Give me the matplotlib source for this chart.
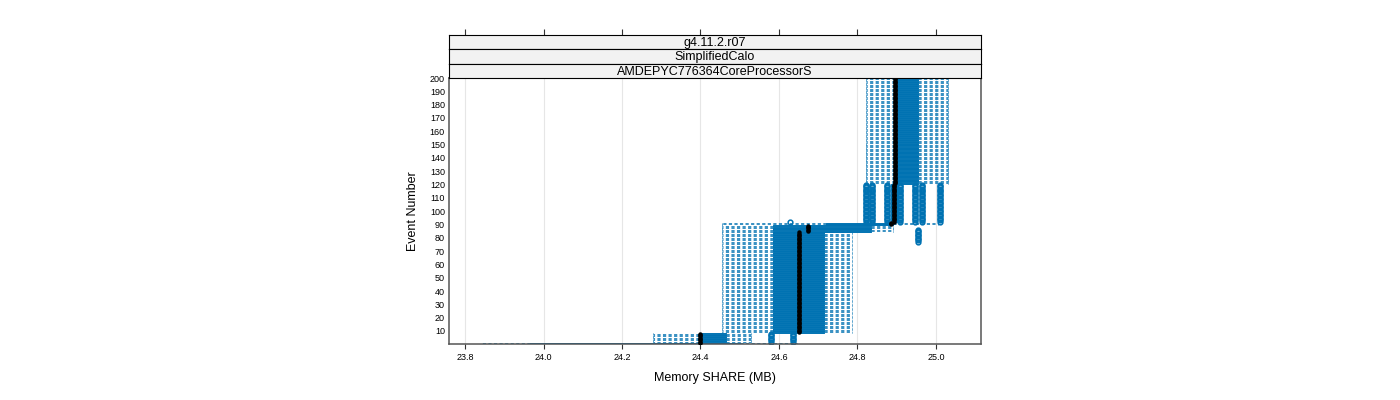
import matplotlib
matplotlib.use('Agg')
import matplotlib.pyplot as plt

plt.rcParams['font.family'] = ['Liberation Sans', 'DejaVu Sans']
plt.rcParams['lines.scale_dashes'] = False

# ---- data: runs of events that share the same box statistics (MB) ----
seg_first  = [1, 2, 9, 85, 90, 92, 121]
seg_last   = [1, 8, 84, 89, 91, 120, 200]
seg_whislo = [23.840, 24.280, 24.455, 24.455, 24.455, 24.885, 24.822]
seg_q1     = [23.965, 24.395, 24.585, 24.585, 24.720, 24.886, 24.896]
seg_med    = [24.400, 24.400, 24.650, 24.675, 24.885, 24.892, 24.895]
seg_q3     = [24.500, 24.465, 24.715, 24.835, 24.890, 24.902, 24.955]
seg_whishi = [24.645, 24.530, 24.785, 24.890, 25.005, 24.902, 25.031]

# outliers: value shown for every event from out_first to out_last
out_first = [2, 2, 77, 92, 92, 92, 92, 92, 92, 92, 92]
out_last  = [8, 8, 86, 92, 120, 120, 120, 120, 120, 120, 120]
out_value = [24.580, 24.636, 24.955, 24.628, 24.822, 24.837, 24.875,
             24.908, 24.946, 24.964, 25.010]

x_ticks = [23.8, 24.0, 24.2, 24.4, 24.6, 24.8, 25.0]
x_tick_labels = ['23.8', '24.0', '24.2', '24.4', '24.6', '24.8', '25.0']
y_ticks = list(range(10, 201, 10))
strip_labels = ['g4.11.2.r07', 'SimplifiedCalo', 'AMDEPYC776364CoreProcessorS']

# ---- build per-event stats ----
stats, events, medians = [], [], []
for f, l, wl, a, m, b, wh in zip(seg_first, seg_last, seg_whislo, seg_q1,
                                 seg_med, seg_q3, seg_whishi):
    for e in range(f, l + 1):
        fl = [v for of, ol, v in zip(out_first, out_last, out_value) if of <= e <= ol]
        stats.append(dict(whislo=wl, q1=a, med=m, q3=b, whishi=wh, fliers=fl))
        events.append(e)
        medians.append(m)

blue = '#0072B2'
W, H = 1400, 400
fig = plt.figure(figsize=(14, 4), dpi=100)
L, R, T, B = 449, 981, 78, 344
ax = fig.add_axes([L / W, 1 - B / H, (R - L) / W, (B - T) / H])
ax.set_xlim(23.759, 25.115)
ax.set_ylim(0.2, 200)

dash = (0, (2.3, 1.7))
ax.bxp(stats, positions=events, widths=0.6, capwidths=0.6,
       orientation='horizontal', manage_ticks=False,
       boxprops=dict(color=blue, lw=0.7),
       whiskerprops=dict(color=blue, lw=0.55, linestyle=dash),
       capprops=dict(color=blue, lw=0.55, linestyle=dash),
       medianprops=dict(visible=False),
       flierprops=dict(marker='o', markerfacecolor='none', markeredgecolor=blue,
                       markersize=3.4, markeredgewidth=1.1))
ax.plot(medians, events, 'o', color='black', ms=3.2, mew=0, zorder=5)

ax.set_xticks(x_ticks)
ax.set_xticklabels(x_tick_labels)
ax.set_yticks(y_ticks)
ax.set_yticklabels([str(v) for v in y_ticks])
ax.tick_params(axis='x', direction='out', length=3.6, width=0.8, colors='#333333',
               labelsize=6.5, pad=3, labelcolor='black')
ax.tick_params(axis='y', length=0, labelsize=6.5, pad=3)
ax.grid(axis='x', color='#e6e6e6', lw=0.8)
ax.set_axisbelow(True)
for s in ax.spines.values():
    s.set_color('#555555')
    s.set_linewidth(1.1)

# strips
sh = 14.4
for i, lab in enumerate(strip_labels):
    top = T - (3 - i) * sh
    sax = fig.add_axes([L / W, 1 - (top + sh) / H, (R - L) / W, sh / H])
    sax.set_facecolor('#f2f2f2')
    sax.set_xlim(ax.get_xlim())
    sax.set_yticks([])
    if i == 0:
        sax.set_xticks(x_ticks)
        sax.tick_params(axis='x', top=True, bottom=False, labeltop=False,
                        labelbottom=False, direction='out', length=4.3,
                        width=0.8, colors='#333333')
    else:
        sax.set_xticks([])
    for s in sax.spines.values():
        s.set_color('black')
        s.set_linewidth(0.8)
    sax.text(0.5, 0.45, lab, transform=sax.transAxes, ha='center', va='center',
             fontsize=9)

fig.text(715 / W, 1 - 377.5 / H, 'Memory SHARE (MB)', ha='center', va='center',
         fontsize=9)
fig.text(413 / W, 1 - 211 / H, 'Event Number', ha='center', va='center',
         rotation=90, fontsize=9)

fig.savefig('out.png', dpi=100)
